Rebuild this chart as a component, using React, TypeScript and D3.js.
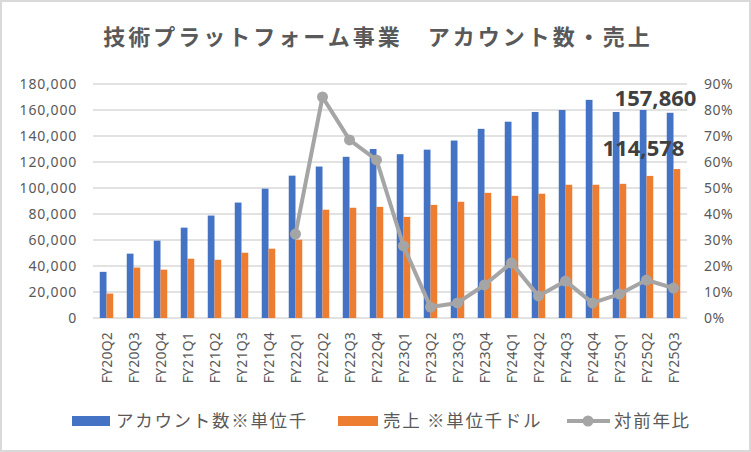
import React from "react";
import * as d3 from "d3";

const quarters = [
  "FY20Q2", "FY20Q3", "FY20Q4", "FY21Q1", "FY21Q2", "FY21Q3", "FY21Q4",
  "FY22Q1", "FY22Q2", "FY22Q3", "FY22Q4", "FY23Q1", "FY23Q2", "FY23Q3",
  "FY23Q4", "FY24Q1", "FY24Q2", "FY24Q3", "FY24Q4", "FY25Q1", "FY25Q2", "FY25Q3",
];
// アカウント数 (千)
const accounts = [
  35500, 49500, 59500, 69500, 78800, 88800, 99500,
  109500, 116500, 124000, 130000, 126000, 129500, 136500,
  145500, 151000, 158500, 160000, 167800, 158500, 160000, 157860,
];
// 売上 (千ドル)
const sales = [
  18800, 38800, 37200, 45600, 44800, 50200, 53300,
  60200, 83300, 84800, 85500, 77800, 87000, 89400,
  96300, 94000, 95600, 102500, 102500, 103200, 109300, 114578,
];
// 対前年比
const yoy: (number | null)[] = [
  null, null, null, null, null, null, null,
  0.323, 0.85, 0.685, 0.608, 0.277, 0.042, 0.058,
  0.127, 0.212, 0.085, 0.142, 0.058, 0.092, 0.146, 0.115,
];
const leftTicks = [0, 20000, 40000, 60000, 80000, 100000, 120000, 140000, 160000, 180000];
const rightTicks = [0, 0.1, 0.2, 0.3, 0.4, 0.5, 0.6, 0.7, 0.8, 0.9];

const W = 751;
const H = 452;
const plot = { left: 93, right: 687, top: 84, bottom: 318 };
const textColor = "#595959";
const font = "'Noto Sans', 'Noto Sans CJK JP', sans-serif";
const jpFont = "'Noto Sans CJK JP', 'Noto Sans', sans-serif";

export default function App() {
  const x = d3.scaleBand<string>().domain(quarters).range([plot.left, plot.right]);
  const yL = d3.scaleLinear().domain([0, 180000]).range([plot.bottom, plot.top]);
  const yR = d3.scaleLinear().domain([0, 0.9]).range([plot.bottom, plot.top]);
  const bw = x.bandwidth() / 4;
  const cx = (q: string) => (x(q) ?? 0) + x.bandwidth() / 2;

  const line = d3
    .line<number | null>()
    .defined((d) => d !== null)
    .x((_, i) => cx(quarters[i]))
    .y((d) => yR(d as number));

  const fmt = d3.format(",");
  const last = quarters[quarters.length - 1];

  return (
    <svg
      width={W}
      height={H}
      style={{ position: "absolute", left: 0, top: 0, background: "#fff" }}
    >
      <rect x={1} y={1} width={W - 2} height={H - 2} fill="#fff" stroke="#d9d9d9" strokeWidth={2} />
      <text
        x={378}
        y={45}
        textAnchor="middle"
        fontFamily={jpFont}
        fontWeight="bold"
        fontSize={22}
        letterSpacing={3}
        fill={textColor}
      >
        技術プラットフォーム事業　アカウント数・売上
      </text>

      {leftTicks.map((t) => (
        <g key={"l" + t}>
          <line x1={plot.left} x2={plot.right} y1={yL(t)} y2={yL(t)} stroke="#d9d9d9" strokeWidth={1.3} />
          <text
            x={77}
            y={yL(t)}
            dy="0.35em"
            textAnchor="end"
            fontFamily={font}
            fontSize={14}
            letterSpacing={0.8}
            fill={textColor}
          >
            {fmt(t)}
          </text>
        </g>
      ))}
      {rightTicks.map((t) => (
        <text
          key={"r" + t}
          x={704}
          y={yR(t)}
          dy="0.35em"
          textAnchor="start"
          fontFamily={font}
          fontSize={14}
          letterSpacing={0.5}
          fill={textColor}
        >
          {Math.round(t * 100) + "%"}
        </text>
      ))}

      {quarters.map((q, i) => (
        <g key={q}>
          <rect x={cx(q) - bw} y={yL(accounts[i])} width={bw} height={plot.bottom - yL(accounts[i])} fill="#4472C4" />
          <rect x={cx(q)} y={yL(sales[i])} width={bw} height={plot.bottom - yL(sales[i])} fill="#ED7D31" />
          <text
            transform={`translate(${cx(q) + 5},332) rotate(-90)`}
            textAnchor="end"
            fontFamily={font}
            fontSize={14}
            letterSpacing={0.2}
            fill={textColor}
          >
            {q}
          </text>
        </g>
      ))}

      <path d={line(yoy) ?? ""} fill="none" stroke="#A5A5A5" strokeWidth={4} strokeLinejoin="round" />
      {yoy.map((v, i) =>
        v === null ? null : (
          <circle key={"c" + i} cx={cx(quarters[i])} cy={yR(v)} r={5.5} fill="#A5A5A5" />
        )
      )}

      <text
        x={cx(last) - 18}
        y={yL(accounts[accounts.length - 1]) - 7}
        textAnchor="middle"
        fontFamily={font}
        fontWeight="bold"
        fontSize={22}
        fill="#404040"
      >
        {fmt(accounts[accounts.length - 1])}
      </text>
      <text
        x={cx(last) - 30}
        y={yL(sales[sales.length - 1]) - 13}
        textAnchor="middle"
        fontFamily={font}
        fontWeight="bold"
        fontSize={22}
        fill="#404040"
      >
        {fmt(sales[sales.length - 1])}
      </text>

      <g fontFamily={jpFont} fontSize={17.5} fill={textColor} letterSpacing={1.7}>
        <rect x={72} y={416} width={38} height={10} fill="#4472C4" />
        <text x={116} y={421} dy="0.35em">アカウント数※単位千</text>
        <rect x={338} y={416} width={40} height={10} fill="#ED7D31" />
        <text x={383} y={421} dy="0.35em">売上 ※単位千ドル</text>
        <line x1={567} x2={610} y1={421} y2={421} stroke="#A5A5A5" strokeWidth={4} />
        <circle cx={588} cy={421} r={5.5} fill="#A5A5A5" />
        <text x={614} y={421} dy="0.35em">対前年比</text>
      </g>
    </svg>
  );
}
